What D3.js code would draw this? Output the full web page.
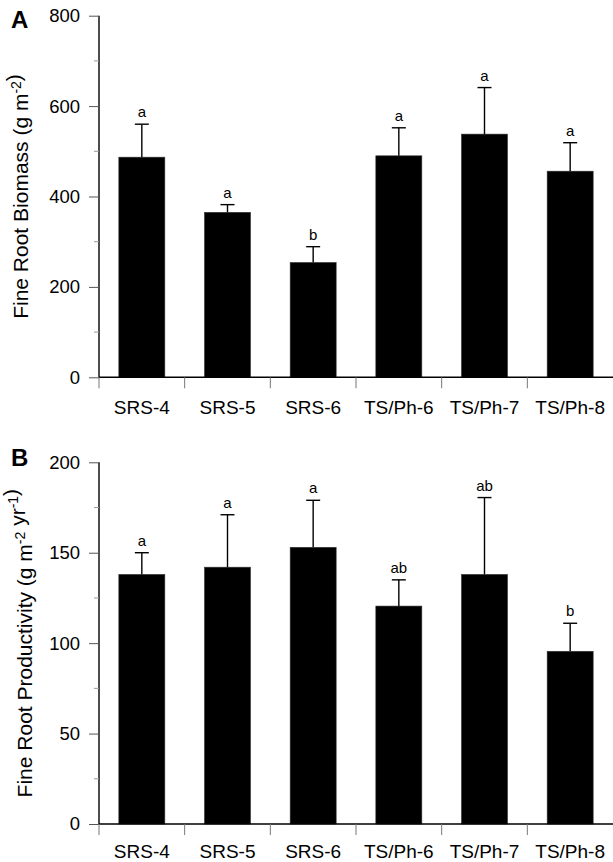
<!DOCTYPE html>
<html><head><meta charset="utf-8">
<script src="https://cdn.jsdelivr.net/npm/d3@7"></script>
<style>
html,body{margin:0;padding:0;background:#fff;}
svg{display:block;font-family:"Liberation Sans",Arial,sans-serif;}
</style></head><body>
<svg id="chart" width="613" height="862"></svg>
<script>
const categories = ["SRS-4","SRS-5","SRS-6","TS/Ph-6","TS/Ph-7","TS/Ph-8"];
const biomassMean = [487, 365, 254, 490, 538, 456];
const biomassErr  = [73, 17, 35, 62, 103, 63];
const biomassSig  = ["a","a","b","a","a","a"];
const biomassTicks = [0,200,400,600,800];
const biomassMinor = [100,300,500,700];
const prodMean = [138, 142, 153, 120.5, 138, 95.5];
const prodErr  = [12, 29, 26, 14.5, 42.5, 15.5];
const prodSig  = ["a","a","a","ab","ab","b"];
const prodTicks = [0,50,100,150,200];
const prodMinor = [25,75,125,175];

const svg = d3.select("#chart");

function panel(opts){
  const g = svg.append("g");
  const x = d3.scaleBand().domain(categories).range([99, 613]).paddingInner(0.463).paddingOuter(0.2315);
  const y = d3.scaleLinear().domain(opts.domain).range(opts.yrange);
  const step = x.step();
  const bw = x.bandwidth();
  const x0 = 99, y0 = y(0);

  // bars
  g.selectAll("rect.bar").data(categories).join("rect")
    .attr("x", d => x(d)).attr("width", bw)
    .attr("y", (d,i) => y(opts.mean[i]))
    .attr("height", (d,i) => y0 - y(opts.mean[i]))
    .attr("fill", "#000").attr("stroke","#333").attr("stroke-width",0.6);

  // error bars + significance letters
  categories.forEach((c,i) => {
    const cx = x(c) + bw/2;
    const top = y(opts.mean[i] + opts.err[i]);
    g.append("line").attr("x1", cx).attr("x2", cx).attr("y1", y(opts.mean[i])).attr("y2", top)
      .attr("stroke","#000").attr("stroke-width",1.4);
    g.append("line").attr("x1", cx-7).attr("x2", cx+7).attr("y1", top).attr("y2", top)
      .attr("stroke","#000").attr("stroke-width",1.4);
    g.append("text").attr("x", cx).attr("y", top - 7).attr("text-anchor","middle")
      .attr("font-size", 15).attr("fill","#000").text(opts.sig[i]);
  });

  // y axis
  const yAxis = d3.axisLeft(y).tickValues(opts.ticks).tickSize(10).tickPadding(9).tickFormat(d3.format("d"));
  const ya = g.append("g").attr("transform", `translate(${x0},0)`).call(yAxis);
  ya.select(".domain").attr("stroke","#000").attr("stroke-width",1.4)
    .attr("d", `M0,${y0}V${opts.yrange[1]}`);
  ya.selectAll(".tick line").attr("stroke","#555").attr("stroke-width",1);
  ya.selectAll(".tick text").attr("font-size",18.5).attr("fill","#000")
    .attr("font-family",'"Liberation Sans",Arial,sans-serif');
  // minor ticks
  g.selectAll("line.minor").data(opts.minor).join("line")
    .attr("x1", x0-5).attr("x2", x0).attr("y1", d => y(d)).attr("y2", d => y(d))
    .attr("stroke","#999").attr("stroke-width",1);

  // x axis
  g.append("line").attr("x1", x0).attr("x2", 613).attr("y1", y0).attr("y2", y0)
    .attr("stroke","#000").attr("stroke-width",1.6);
  const bounds = categories.map(c => x(c) - (step - bw)/2);
  g.selectAll("line.xt").data(bounds).join("line")
    .attr("x1", d => d).attr("x2", d => d).attr("y1", y0).attr("y2", y0 + 11)
    .attr("stroke","#777").attr("stroke-width",1);
  g.selectAll("text.xl").data(categories).join("text")
    .attr("x", d => x(d) + bw/2).attr("y", y0 + opts.labelOffset)
    .attr("text-anchor","middle").attr("font-size",19).attr("fill","#000").text(d => d);

  // panel letter
  g.append("text").attr("x", 11).attr("y", opts.letterY).attr("font-size",24).attr("font-weight","bold")
    .attr("fill","#000").text(opts.letter);

  // y title
  const cy = (opts.yrange[0] + opts.yrange[1]) / 2;
  const t = g.append("text").attr("transform", `translate(${opts.titleX},${cy}) rotate(-90)`)
    .attr("text-anchor","middle").attr("font-size",21).attr("fill","#000");
  opts.title.forEach(part => {
    if (part.sup) {
      t.append("tspan").attr("dy", -7).attr("font-size", 14).text(part.t);
      t.append("tspan").attr("dy", 7).text("");
    } else {
      t.append("tspan").text(part.t);
    }
  });
}

panel({domain:[0,800], yrange:[377.3,15.7], mean:biomassMean, err:biomassErr, sig:biomassSig,
  ticks:biomassTicks, minor:biomassMinor, labelOffset:37, letter:"A", letterY:28, titleX:27.5,
  title:[{t:"Fine Root Biomass (g m"},{t:"-2",sup:true},{t:")"}]});
panel({domain:[0,200], yrange:[824,462.3], mean:prodMean, err:prodErr, sig:prodSig,
  ticks:prodTicks, minor:prodMinor, labelOffset:34, letter:"B", letterY:466, titleX:32,
  title:[{t:"Fine Root Productivity (g m"},{t:"-2",sup:true},{t:" yr"},{t:"-1",sup:true},{t:")"}]});
</script>
</body></html>
